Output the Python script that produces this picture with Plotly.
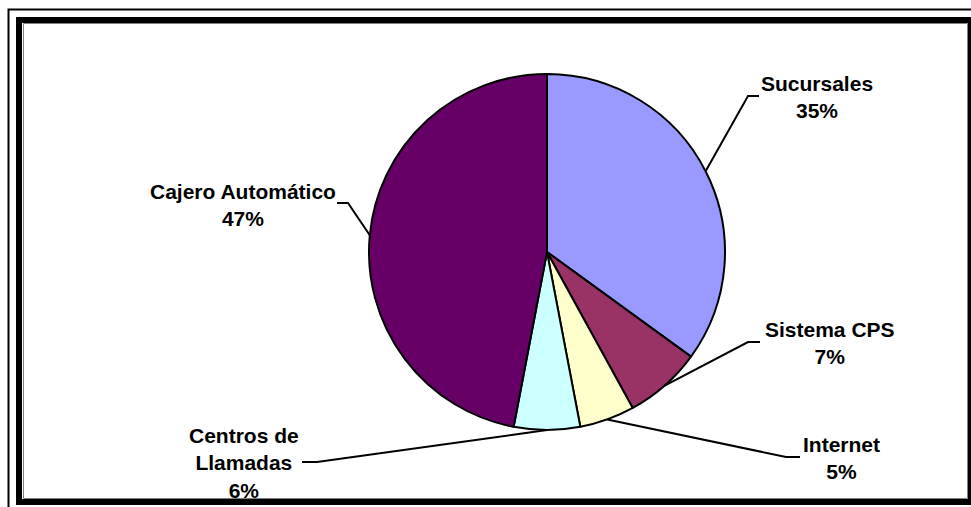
import math
import plotly.graph_objects as go

# Channel shares (percent), clockwise from 12 o'clock
categories = ["Sucursales", "Sistema CPS", "Internet", "Centros de Llamadas", "Cajero Automático"]
shares = [35, 7, 5, 6, 47]
label_text = ["Sucursales", "Sistema CPS", "Internet", "Centros de<br>Llamadas", "Cajero Automático"]
slice_colors = ["#9999FF", "#993366", "#FFFFCC", "#CCFFFF", "#660066"]

W, H = 971, 507
CX, CY, R = 547, 252, 178  # pie centre and radius in pixels

# label anchor (centre), leader elbow and leader end, in pixels
label_pos = [(817, 97), (830, 343), (841, 458), (244, 463), (243, 205)]
elbow_pos = [(748, 96), (748, 342), (786, 457), (317, 462), (348, 203)]
end_pos = [(759, 96), (760, 342), (800, 457), (302, 462), (337, 203)]


def px(x):
    return x / W


def py(y):
    return 1 - y / H


fig = go.Figure(
    go.Pie(
        labels=categories,
        values=shares,
        sort=False,
        direction="clockwise",
        rotation=0,
        marker=dict(colors=slice_colors, line=dict(color="black", width=2)),
        textinfo="none",
        hoverinfo="skip",
        domain=dict(x=[px(CX - R), px(CX + R)], y=[py(CY + R), py(CY - R)]),
    )
)

shapes = []
annotations = []
total = sum(shares)
cum = 0
font = dict(family="Liberation Sans, Arial, sans-serif", size=21, color="black")
for name, v, txt, lp, ep, en in zip(categories, shares, label_text, label_pos, elbow_pos, end_pos):
    theta = 2 * math.pi * (cum + v / 2) / total
    cum += v
    sx = CX + R * math.sin(theta)
    sy = CY - R * math.cos(theta)
    path = f"M {px(sx)},{py(sy)} L {px(ep[0])},{py(ep[1])} L {px(en[0])},{py(en[1])}"
    shapes.append(dict(type="path", xref="paper", yref="paper", path=path,
                       line=dict(color="black", width=2)))
    annotations.append(dict(
        x=px(lp[0]), y=py(lp[1]), xref="paper", yref="paper",
        xanchor="center", yanchor="middle", align="center", showarrow=False,
        text=f"<b>{txt}<br>{round(v / total * 100)}%</b>", font=font,
    ))

# chart frame: thin outer line and heavy inner border
shapes.append(dict(type="path", xref="paper", yref="paper",
                   path=f"M {px(8.5)},{py(520)} L {px(8.5)},{py(9.5)} L {px(990)},{py(9.5)}",
                   line=dict(color="black", width=2)))
shapes.append(dict(type="rect", xref="paper", yref="paper",
                   x0=px(23.5), y0=py(498.5), x1=px(967.5), y1=py(23.5),
                   line=dict(color="#808080", width=1)))
shapes.append(dict(type="rect", xref="paper", yref="paper",
                   x0=px(19), y0=py(502), x1=px(971), y1=py(20),
                   line=dict(color="black", width=6)))

fig.update_layout(
    width=W, height=H,
    margin=dict(l=0, r=0, t=0, b=0),
    paper_bgcolor="white", plot_bgcolor="white",
    showlegend=False,
    shapes=shapes,
    annotations=annotations,
)

fig.write_html("out.html")
